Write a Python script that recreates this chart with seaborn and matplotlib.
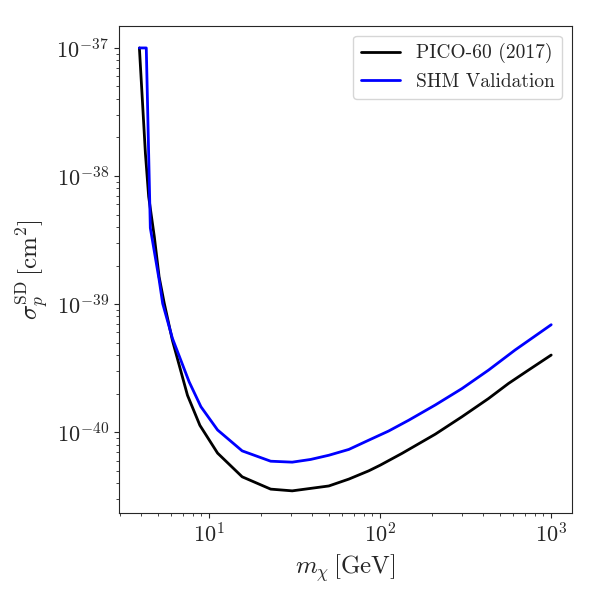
import numpy as np
import pandas as pd
import matplotlib
matplotlib.use("Agg")
import matplotlib.pyplot as plt
import seaborn as sns

# Limits (PICO-60 2017 vs SHM validation)
pico_mass = [3.91, 4.08, 4.24, 4.43, 4.78, 5.1, 5.46, 6.1, 7.47, 8.83, 11.2, 15.6,
             22.9, 30.6, 50.1, 65.6, 85.8, 100, 134, 210, 301, 430, 563, 736, 1000]
pico_sigma = [1.0e-37, 3.7e-38, 1.5e-38, 6.9e-39, 3.36e-39, 1.63e-39, 1.02e-39, 5.2e-40,
              1.94e-40, 1.13e-40, 6.86e-41, 4.48e-41, 3.59e-41, 3.48e-41, 3.8e-41,
              4.3e-41, 4.99e-41, 5.52e-41, 6.82e-41, 9.64e-41, 1.32e-40, 1.83e-40,
              2.4e-40, 3.05e-40, 4.0e-40]

shm_mass = [3.91, 4.29, 4.53, 5.1, 5.35, 6.1, 7.64, 8.95, 11.2, 15.6, 22.9, 30.6,
            39.2, 50.1, 65.6, 85.8, 112, 147, 210, 301, 430, 615, 1000]
shm_sigma = [1.0e-37, 1.0e-37, 3.93e-39, 1.55e-39, 1.01e-39, 5.4e-40, 2.47e-40, 1.58e-40,
             1.04e-40, 7.14e-41, 5.93e-41, 5.83e-41, 6.12e-41, 6.6e-41, 7.33e-41, 8.66e-41,
             1.02e-40, 1.24e-40, 1.63e-40, 2.19e-40, 3.05e-40, 4.38e-40, 6.9e-40]

df = pd.concat([
    pd.DataFrame({"mass": pico_mass, "sigma": pico_sigma, "label": "PICO-60 (2017)"}),
    pd.DataFrame({"mass": shm_mass, "sigma": shm_sigma, "label": "SHM Validation"}),
], ignore_index=True)

sns.set_style("ticks")
plt.rcParams["font.family"] = "serif"
plt.rcParams["font.serif"] = ["cmr10", "DejaVu Serif"]
plt.rcParams["mathtext.fontset"] = "cm"
plt.rcParams["axes.formatter.use_mathtext"] = True
plt.rcParams["axes.unicode_minus"] = False

fig, ax = plt.subplots(figsize=(6, 6), dpi=100)
fig.subplots_adjust(left=0.198, right=0.953, top=0.957, bottom=0.145)

sns.lineplot(data=df, x="mass", y="sigma", hue="label",
             palette={"PICO-60 (2017)": "black", "SHM Validation": "blue"},
             sort=False, estimator=None, linewidth=2, ax=ax)

ax.set_xscale("log")
ax.set_yscale("log")
ax.set_xlabel(r"$m_\chi\,[\mathrm{GeV}]$", fontsize=18)
ax.set_ylabel(r"$\sigma_p^{\mathrm{SD}}\,[\mathrm{cm}^2]$", fontsize=18)
ax.tick_params(axis="both", which="major", labelsize=16)
for side in ["top", "right"]:
    ax.spines[side].set_visible(True)

leg = ax.legend(loc="upper right", fontsize=14, title=None)

fig.savefig("out.png", dpi=100)
